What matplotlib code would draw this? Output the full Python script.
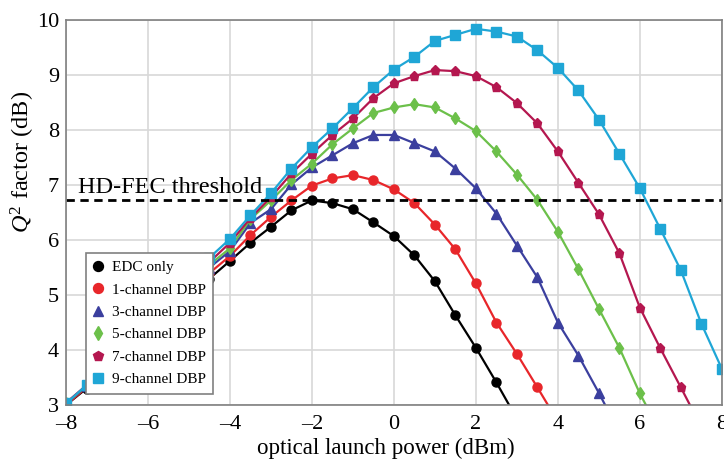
import matplotlib
matplotlib.use('Agg')
import matplotlib.pyplot as plt
import numpy as np

plt.rcParams['font.family'] = 'Liberation Serif'
plt.rcParams['mathtext.fontset'] = 'custom'
plt.rcParams['mathtext.rm'] = 'Liberation Serif'
plt.rcParams['mathtext.it'] = 'Liberation Serif:italic'

## Q^2 factor vs launch power for EDC and multi-channel DBP

power = np.arange(-8, 8.01, 0.5)

# values (points under the legend are estimates)
q_edc = [3.0, 3.3, 3.65, 4.0, 4.35, 4.7, 5.0, 5.3, 5.62, 5.95, 6.24, 6.54, 6.72,
         6.67, 6.56, 6.32, 6.07, 5.72, 5.25, 4.63, 4.04, 3.41, 2.75]
q_dbp1 = [3.0, 3.32, 3.68, 4.05, 4.4, 4.75, 5.07, 5.4, 5.71, 6.09, 6.42, 6.72, 6.99,
          7.12, 7.18, 7.09, 6.92, 6.67, 6.28, 5.83, 5.21, 4.5, 3.93, 3.32, 2.7]
q_dbp3 = [3.02, 3.34, 3.7, 4.08, 4.45, 4.82, 5.15, 5.5, 5.8, 6.31, 6.56, 7.01, 7.32,
          7.54, 7.76, 7.91, 7.91, 7.76, 7.61, 7.3, 6.94, 6.48, 5.9, 5.32, 4.5,
          3.9, 3.22, 2.5]
q_dbp5 = [3.03, 3.35, 3.72, 4.1, 4.48, 4.85, 5.2, 5.55, 5.85, 6.38, 6.72, 7.09, 7.39,
          7.74, 8.03, 8.31, 8.41, 8.47, 8.41, 8.21, 7.98, 7.61, 7.19, 6.73, 6.15,
          5.47, 4.75, 4.04, 3.21, 2.5]
q_dbp7 = [3.04, 3.36, 3.73, 4.12, 4.5, 4.88, 5.25, 5.6, 5.95, 6.4, 6.78, 7.21, 7.57,
          7.91, 8.21, 8.58, 8.85, 8.98, 9.09, 9.07, 8.98, 8.78, 8.49, 8.12, 7.61,
          7.04, 6.47, 5.76, 4.77, 4.03, 3.32, 2.6]
q_dbp9 = [3.03, 3.36, 3.75, 4.15, 4.55, 4.95, 5.3, 5.68, 6.02, 6.45, 6.85, 7.3, 7.69,
          8.03, 8.4, 8.78, 9.1, 9.33, 9.62, 9.73, 9.84, 9.79, 9.7, 9.45, 9.13,
          8.72, 8.19, 7.57, 6.94, 6.2, 5.45, 4.48, 3.66]

labels = ['EDC only', '1-channel DBP', '3-channel DBP', '5-channel DBP',
          '7-channel DBP', '9-channel DBP']
series = [q_edc, q_dbp1, q_dbp3, q_dbp5, q_dbp7, q_dbp9]
colors = ['#000000', '#e8262a', '#3b3f9e', '#6cc04a', '#b4174f', '#1fa6d6']
markers = ['o', 'o', '^', 'd', 'p', 's']

x_ticks = np.arange(-8, 9, 2)
x_ticklabels = ['\u20138', '\u20136', '\u20134', '\u20132', '0', '2', '4', '6', '8']
fec_threshold = 6.72

fig = plt.figure(figsize=(7.24, 4.59), dpi=100)
ax = fig.add_axes([0.0912, 0.1176, 0.9058, 0.8388])

for q, lab, c, m in zip(series, labels, colors, markers):
    ax.plot(power[:len(q)], q, color=c, marker=m, markersize=6.5, linewidth=1.6,
            label=lab)

ax.axhline(fec_threshold, color='black', linestyle=(0, (3, 2)), linewidth=2)
ax.text(-7.72, 6.86, 'HD-FEC threshold', fontsize=17.5, va='baseline', ha='left')

ax.set_xlim(-8, 8)
ax.set_ylim(3, 10)
ax.set_xticks(x_ticks)
ax.set_yticks(np.arange(3, 11, 1))
ax.set_xticklabels(x_ticklabels)
ax.tick_params(length=0, labelsize=16)
ax.tick_params(axis='x', pad=7)
ax.tick_params(axis='y', pad=5)
ax.grid(True, color='#d8d8d8', linewidth=1.2)
for s in ax.spines.values():
    s.set_color('#808080')
    s.set_linewidth(1.2)

ax.set_xlabel('optical launch power (dBm)', fontsize=16.5, va='baseline')
ax.xaxis.set_label_coords(0.488, -0.128)
ax.set_ylabel('$Q^2$ factor (dB)', fontsize=17.5)
ax.yaxis.set_label_coords(-0.045, 0.63)

leg = ax.legend(loc='upper left', bbox_to_anchor=(0.03, 0.395), borderaxespad=0,
                fontsize=11, handlelength=0.6, handletextpad=0.6,
                labelspacing=0.57, fancybox=False, framealpha=1,
                edgecolor='#808080', borderpad=0.5, markerscale=1.1)
for h in leg.legend_handles:
    h.set_linestyle('')
leg.get_frame().set_linewidth(1.2)

fig.savefig('out.png', dpi=100)
